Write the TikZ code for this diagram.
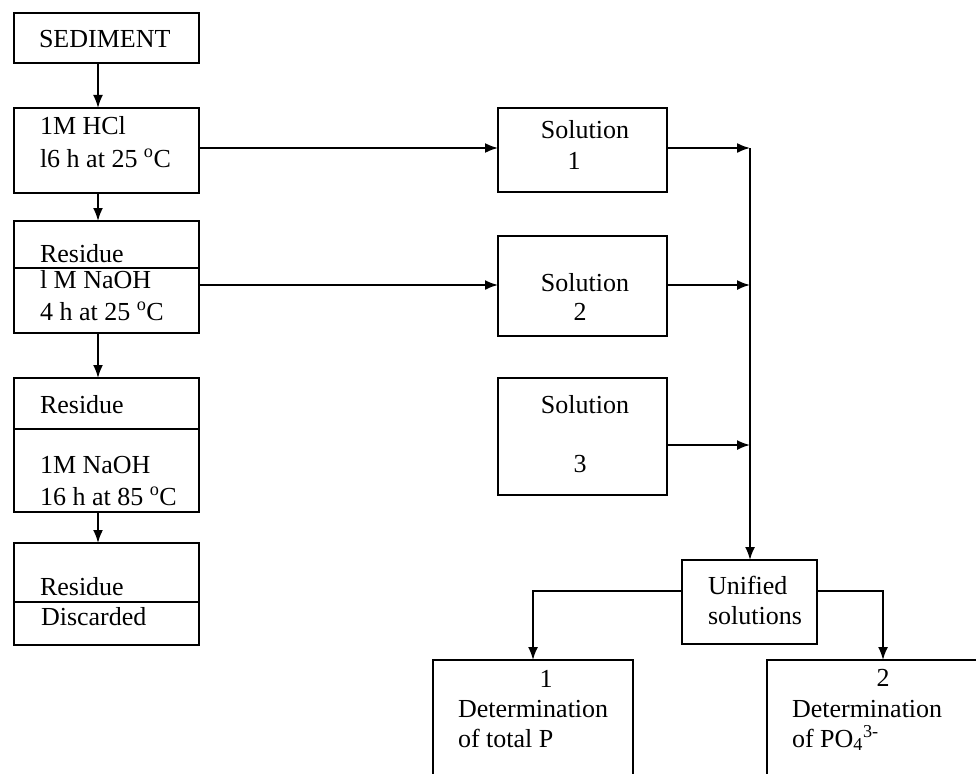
\documentclass[tikz,border=0pt]{standalone}
\usepackage{fontspec}
\setmainfont{Liberation Serif}
\usetikzlibrary{arrows.meta}
\begin{document}
\begin{tikzpicture}[x=1pt,y=-1pt,
  box/.style={draw, line width=2.2pt, inner sep=0pt, outer sep=0pt, rectangle},
  txt/.style={inner sep=0pt, outer sep=0pt, font=\fontsize{26}{31}\selectfont},
  lw/.style={anchor=base west},
  lc/.style={anchor=base},
  arr/.style={-{Latex[length=13pt,width=10pt]}, line width=1.8pt},
  dv/.style={line width=2pt}]
\clip (0,0) rectangle (976,773);
\useasboundingbox (0,0) rectangle (976,773);
% boxes
\node[box, minimum width=185pt, minimum height=50pt] (sed) at (106.5,38) {};
\node[box, minimum width=185pt, minimum height=85pt] (hcl) at (106.5,150.5) {};
\node[box, minimum width=185pt, minimum height=112pt] (nb1) at (106.5,277) {};
\node[box, minimum width=185pt, minimum height=134pt] (nb2) at (106.5,445) {};
\node[box, minimum width=185pt, minimum height=102pt] (dis) at (106.5,594) {};
\node[box, minimum width=169pt, minimum height=84pt] (s1) at (582.5,150) {};
\node[box, minimum width=169pt, minimum height=100pt] (s2) at (582.5,286) {};
\node[box, minimum width=169pt, minimum height=117pt] (s3) at (582.5,436.5) {};
\node[box, minimum width=135pt, minimum height=84pt] (uni) at (749.5,602) {};
\node[box, minimum width=200pt, minimum height=160pt] (d1) at (533,740) {};
\node[box, minimum width=232pt, minimum height=160pt] (d2) at (883,740) {};
% dividers
\draw[dv] (nb1.west |- 0,268) -- (nb1.east |- 0,268);
\draw[dv] (nb2.west |- 0,429) -- (nb2.east |- 0,429);
\draw[dv] (dis.west |- 0,602) -- (dis.east |- 0,602);
% texts
\node[txt,lw] (t1) at (39,48) {SEDIMENT};
\node[txt,lw] (t2) at (40,135) {1M HCl};
\node[txt,lw] (t3) at (40,167) {l6 h at 25 \textsuperscript{o}C};
\node[txt,lw] (t4) at (40,262) {Residue};
\node[txt,lw] (t5) at (40,288) {l M NaOH};
\node[txt,lw] (t6) at (40,320) {4 h at 25 \textsuperscript{o}C};
\node[txt,lw] (t7) at (40,413) {Residue};
\node[txt,lw] (t8) at (40,473) {1M NaOH};
\node[txt,lw] (t9) at (40,505) {16 h at 85 \textsuperscript{o}C};
\node[txt,lw] (t10) at (40,595) {Residue};
\node[txt,lw] (t11) at (41,625) {Discarded};
\node[txt,lc] (t12) at (585,139) {Solution};
\node[txt,lc] (t13) at (574,169) {1};
\node[txt,lc] (t14) at (585,291) {Solution};
\node[txt,lc] (t15) at (580,320) {2};
\node[txt,lc] (t16) at (585,413) {Solution};
\node[txt,lc] (t17) at (580,472) {3};
\node[txt,lw] (t18) at (708,594) {Unified};
\node[txt,lw] (t19) at (708,624) {solutions};
\node[txt,lc] (t20) at (546,687) {1};
\node[txt,lw] (t21) at (458,717) {Determination};
\node[txt,lw] (t22) at (458,747) {of total P};
\node[txt,lc] (t23) at (883,686) {2};
\node[txt,lw] (t24) at (792,717) {Determination};
\node[txt,lw] (t25) at (792,747) {of PO\textsubscript{4}\textsuperscript{3-}};
% connectors
\coordinate (cx) at (98,0);
\coordinate (jx) at (750,0);
\draw[arr] (sed.south -| cx) -- (hcl.north -| cx);
\draw[arr] (hcl.south -| cx) -- (nb1.north -| cx);
\draw[arr] (nb1.south -| cx) -- (nb2.north -| cx);
\draw[arr] (nb2.south -| cx) -- (dis.north -| cx);
\coordinate (y1) at (0,148);
\coordinate (y2) at (0,285);
\coordinate (y3) at (0,445);
\draw[arr] (hcl.east |- y1) -- (s1.west |- y1);
\draw[arr] (nb1.east |- y2) -- (s2.west |- y2);
\coordinate (j1) at (jx |- y1);
\coordinate (j2) at (jx |- y2);
\coordinate (j3) at (jx |- y3);
\draw[arr] (s1.east |- y1) -- (j1);
\draw[arr] (s2.east |- y2) -- (j2);
\draw[arr] (s3.east |- y3) -- (j3);
\draw[arr] (j1) -- (uni.north -| jx);
\coordinate (yu) at (0,591);
\draw[arr] (uni.west |- yu) -| (d1.north);
\draw[arr] (uni.east |- yu) -| (d2.north);
\end{tikzpicture}
\end{document}
